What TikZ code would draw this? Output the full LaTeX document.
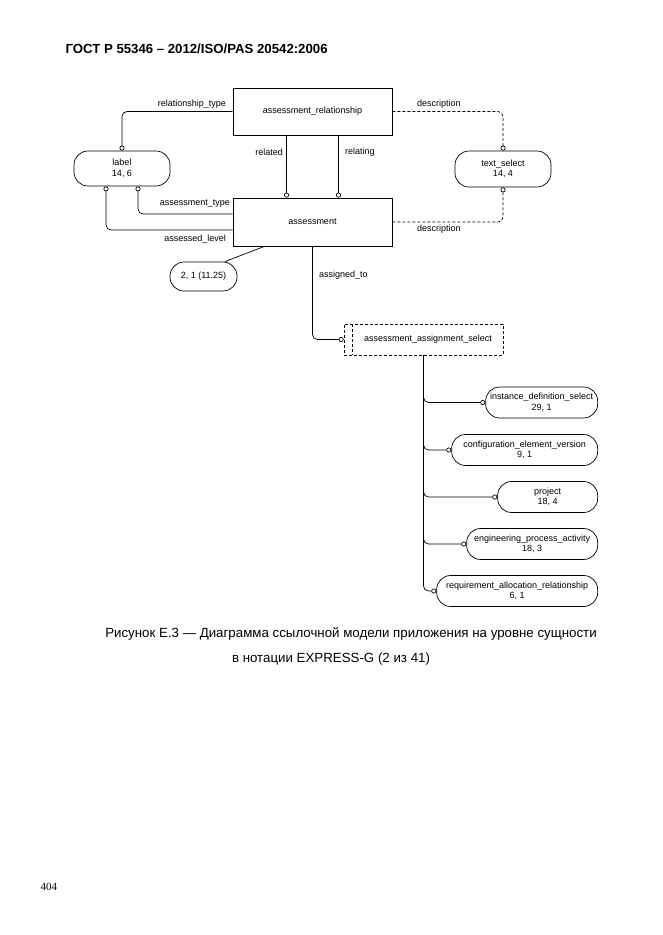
\documentclass[tikz,border=0pt]{standalone}
\usepackage{fontspec}
\setmainfont{Liberation Sans}
\newfontfamily\pagefont{Liberation Serif}
\usetikzlibrary{arrows.meta}
\tikzset{
  entity/.style={draw, rectangle, line width=0.7pt, minimum width=159pt, minimum height=47pt, inner sep=0pt, font=\fontsize{9}{10}\selectfont},
  typeref/.style={draw, rectangle, rounded corners=14pt, line width=0.7pt, minimum height=31pt, inner xsep=0pt, inner ysep=1pt, align=center, font=\fontsize{9}{10.5}\selectfont},
  rel/.style={line width=0.7pt, -{Circle[open,length=5pt,width=5pt]}, rounded corners=5pt},
  lbl/.style={inner sep=0pt, font=\fontsize{9}{10}\selectfont},
  dash5/.style={dash pattern=on 3pt off 2pt},
}
\begin{document}
\begin{tikzpicture}[x=1pt,y=-1pt]
  \fill[white] (0,0) rectangle (662,935);
  \useasboundingbox (0,0) rectangle (662,935);
  \node[anchor=base west, font=\bfseries\fontsize{13.2}{15}\selectfont] (title) at (62,53) {ГОСТ Р 55346 – 2012/ISO/PAS 20542:2006};

  % entities
  \node[entity] (arel) at (312.5,111.5) {assessment\_relationship};
  \node[entity, minimum height=48pt] (ass) at (312.5,222) {assessment};
  \node[typeref, minimum width=96pt, minimum height=35pt] (label) at (122,168.5) {label\\14, 6};
  \node[typeref, minimum width=96pt, minimum height=36pt] (tsel) at (503,169) {text\_select\\14, 4};
  \node[typeref, minimum width=67pt, minimum height=29pt] (ratio) at (203.5,276.5) {2, 1 (11.25)};
  \node[entity, dash5, minimum height=31pt] (asel) at (423.5,339.5) {};
  \node[lbl] (aseltext) at (428,339.5) {assessment\_assignment\_select};

  % select items
  \node[typeref, minimum width=112pt, anchor=east] (idsel) at (598,402.5) {instance\_definition\_select\\29, 1};
  \node[typeref, minimum width=146pt, anchor=east] (cev) at (598,450) {configuration\_element\_version\\9, 1};
  \node[typeref, minimum width=100pt, anchor=east] (proj) at (598,497) {project\\18, 4};
  \node[typeref, minimum width=131pt, anchor=east] (epa) at (598,544) {engineering\_process\_activity\\18, 3};
  \node[typeref, minimum width=161pt, anchor=east] (rar) at (598,591) {requirement\_allocation\_relationship\\6, 1};

  % attributes
  \draw[rel] (arel.west) -| (label.north);
  \draw[rel] ([yshift=8pt]ass.west) -| ([xshift=16pt]label.south);
  \draw[rel] ([yshift=-8pt]ass.west) -| ([xshift=-16pt]label.south);
  \draw[rel] ([xshift=-26pt]arel.south) -- ([xshift=-26pt]ass.north);
  \draw[rel] ([xshift=26pt]arel.south) -- ([xshift=26pt]ass.north);
  \draw[rel, dash5] (arel.east) -| (tsel.north);
  \draw[rel, dash5] (ass.east) -| (tsel.south);
  \draw[line width=0.7pt] (ratio.35) -- ([xshift=-48pt]ass.south);
  \draw[rel] (ass.south) |- (asel.west);
  \draw[dash5, line width=0.7pt] ([xshift=9pt]asel.north west) -- ([xshift=9pt]asel.south west);
  \foreach \leaf in {idsel, cev, proj, epa, rar}
  {
    \draw[rel] (asel.south) |- (\leaf.west);
  }

  % attribute names
  \node[lbl, anchor=east] (reltypelbl) at (226,104) {relationship\_type};
  \node[lbl, anchor=east] (relatedlbl) at (283,152) {related};
  \node[lbl, anchor=west] (relatinglbl) at (345,152) {relating};
  \node[lbl, anchor=east] (asstypelbl) at (230,204) {assessment\_type};
  \node[lbl, anchor=east] (asslevellbl) at (226,239) {assessed\_level};
  \node[lbl, anchor=west] (desconelbl) at (417,104) {description};
  \node[lbl, anchor=west] (desctwolbl) at (417,229) {description};
  \node[lbl, anchor=west] (assignedlbl) at (319,275) {assigned\_to};

  % caption
  \node[font=\fontsize{13.3}{16}\selectfont] (capone) at (351,634) {Рисунок Е.3 — Диаграмма ссылочной модели приложения на уровне сущности};
  \node[font=\fontsize{13.3}{16}\selectfont] (captwo) at (331,659) {в нотации EXPRESS-G (2 из 41)};
  \node[anchor=west, font=\pagefont\fontsize{11}{13}\selectfont] (pagenum) at (37,887) {404};
\end{tikzpicture}
\end{document}
